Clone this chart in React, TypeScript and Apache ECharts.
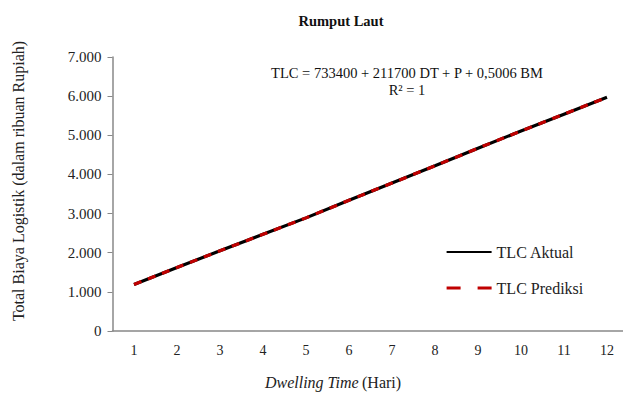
import React, { useEffect, useRef } from "react";
import * as echarts from "echarts";

const categories = ["1", "2", "3", "4", "5", "6", "7", "8", "9", "10", "11", "12"];
const tlcAktual = [1190, 1620, 2050, 2470, 2890, 3340, 3780, 4220, 4670, 5110, 5540, 5970];
const tlcPrediksi = [1190, 1620, 2050, 2470, 2890, 3340, 3780, 4220, 4670, 5110, 5540, 5970];
const seriesNames = ["TLC Aktual", "TLC Prediksi"];
const titleText = "Rumput Laut";
const yAxisName = "Total Biaya Logistik (dalam ribuan Rupiah)";
const equationText = "TLC = 733400 + 211700 DT + P + 0,5006 BM";
const r2Text = "R\u00B2 = 1";

const FONT = "'Liberation Serif', 'Times New Roman', serif";

export default function App() {
  const ref = useRef<HTMLDivElement>(null);
  useEffect(() => {
    if (!ref.current) return;
    const chart = echarts.init(ref.current, undefined, { renderer: "svg" });
    chart.setOption({
      animation: false,
      backgroundColor: "#ffffff",
      textStyle: { fontFamily: FONT },
      title: {
        text: titleText,
        left: 336,
        top: 8,
        textAlign: "center",
        textStyle: { fontFamily: FONT, fontSize: 14.5, fontWeight: "bold", color: "#111" },
      },
      grid: { left: 112.5, width: 516, top: 57, bottom: 70 },
      legend: {
        orient: "vertical",
        left: 440,
        top: 239,
        itemWidth: 45,
        itemHeight: 14,
        itemGap: 20,
        itemStyle: { opacity: 0 },
        data: [
          { name: seriesNames[0] },
          { name: seriesNames[1], lineStyle: { type: [14, 17], width: 3.2, color: "#c00000" } },
        ],
        textStyle: { fontFamily: FONT, fontSize: 16, color: "#222" },
      },
      xAxis: {
        type: "category",
        data: categories,
        boundaryGap: true,
        axisLine: { lineStyle: { color: "#888", width: 1.5 } },
        axisTick: { show: false },
        axisLabel: { fontFamily: FONT, fontSize: 14, color: "#222", margin: 12 },
      },
      yAxis: {
        type: "value",
        min: 0,
        max: 7000,
        interval: 1000,
        splitLine: { show: false },
        axisLine: { show: true, lineStyle: { color: "#888", width: 1.5 } },
        axisTick: { show: true, length: 5, lineStyle: { color: "#888" } },
        axisLabel: {
          fontFamily: FONT,
          fontSize: 15,
          color: "#222",
          margin: 11,
          formatter: (v: number) => v.toLocaleString("de-DE"),
        },
      },
      graphic: [
        {
          type: "text",
          x: 18,
          y: 181,
          rotation: Math.PI / 2,
          style: {
            text: yAxisName,
            font: `16px ${FONT}`,
            fill: "#222",
            align: "center",
            verticalAlign: "middle",
          },
        },
        {
          type: "text",
          x: 407,
          y: 73,
          style: {
            text: equationText,
            font: `14.5px ${FONT}`,
            fill: "#111",
            align: "center",
            verticalAlign: "middle",
          },
        },
        {
          type: "text",
          x: 407,
          y: 90,
          style: {
            text: r2Text,
            font: `14.5px ${FONT}`,
            fill: "#111",
            align: "center",
            verticalAlign: "middle",
          },
        },
        {
          type: "text",
          x: 333,
          y: 382,
          style: {
            text: "{i|Dwelling Time} {n|(Hari)}",
            align: "center",
            verticalAlign: "middle",
            rich: {
              i: { fontFamily: FONT, fontSize: 16, fontStyle: "italic", fill: "#222" },
              n: { fontFamily: FONT, fontSize: 16, fill: "#222" },
            },
          },
        },
      ],
      series: [
        {
          name: seriesNames[0],
          type: "line",
          data: tlcAktual,
          symbol: "none",
          itemStyle: { color: "#000" },
          lineStyle: { color: "#000", width: 3.2, type: "solid" },
          z: 2,
        },
        {
          name: seriesNames[1],
          type: "line",
          data: tlcPrediksi,
          symbol: "none",
          itemStyle: { color: "#c00000" },
          lineStyle: { color: "#c00000", width: 3.2, type: [8, 7] },
          z: 3,
        },
      ],
    });
    return () => chart.dispose();
  }, []);
  return (
    <div
      style={{
        position: "absolute",
        left: 0,
        top: 0,
        width: 623,
        height: 401,
        overflow: "hidden",
        background: "#fff",
      }}
    >
      <div ref={ref} style={{ width: 632, height: 401 }} />
    </div>
  );
}
